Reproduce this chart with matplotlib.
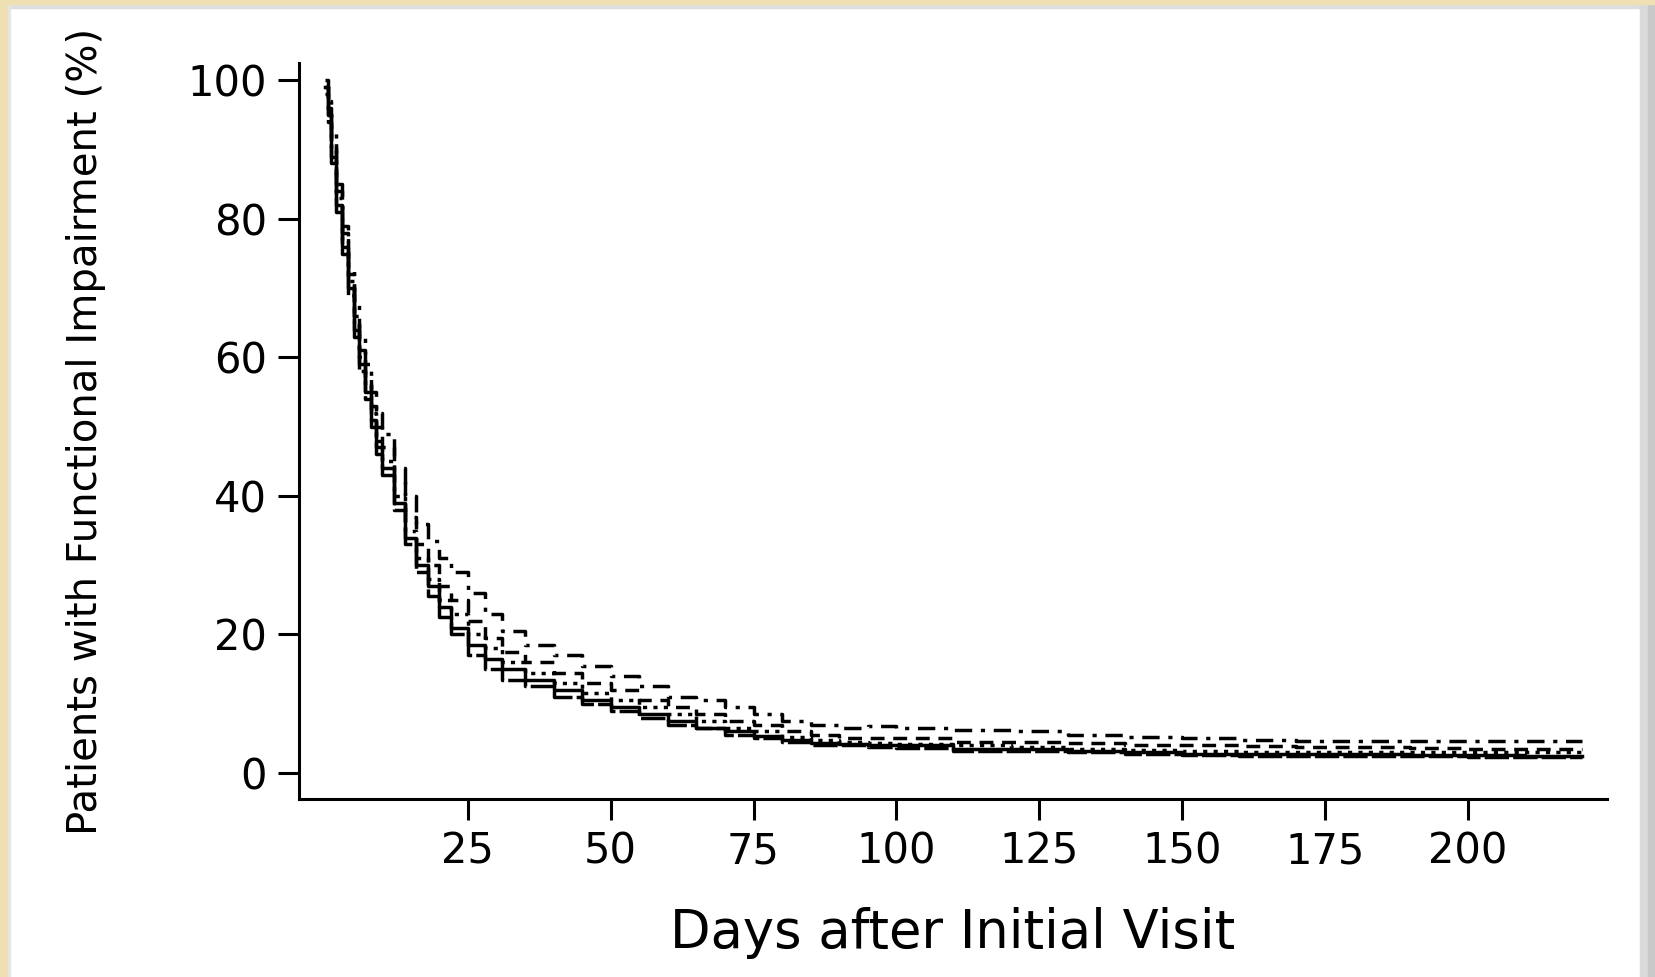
import matplotlib
matplotlib.use("Agg")
import matplotlib.pyplot as plt
from matplotlib.patches import Rectangle

plt.rcParams['font.family'] = ['DejaVu Sans']

# follow-up days and % still impaired for each group
days = [0, 0.5, 1, 2, 3, 4, 5, 6, 7, 8, 9, 10, 12, 14, 16, 18, 20, 22, 25, 28,
        31, 35, 40, 45, 50, 55, 60, 65, 70, 75, 80, 85, 90, 95, 100, 110, 120,
        130, 140, 150, 160, 170, 180, 190, 200, 210, 220]
group_a = [100, 97, 93, 85, 79, 73, 68, 63, 59, 55, 52, 49, 44, 40, 36, 33.5, 31,
           29, 26, 23, 20.5, 18.5, 17, 15.5, 14, 12.5, 11, 10.5, 9.5, 8.5, 7.5, 7,
           6.5, 6.8, 6.5, 6.2, 6, 5.5, 5.2, 5, 4.8, 4.6, 4.6, 4.6, 4.6, 4.6, 4.6]
group_b = [99, 96, 91, 84, 78, 72, 66, 61, 57, 53, 50, 47, 42, 37, 33, 30, 27,
           25, 22, 19.5, 17.5, 16, 14.5, 13, 12, 10.5, 9.5, 8.5, 7.5, 7, 6, 5.5,
           5, 5, 5, 4.5, 4.5, 4.3, 4, 4, 3.9, 3.8, 3.7, 3.6, 3.5, 3.5, 3.5]
group_c = [99, 95, 90, 83, 77, 71, 65, 60, 56, 52, 48, 45, 40, 35, 31, 28, 25,
           23, 20, 18, 16, 14.5, 13, 11.5, 10.5, 9.5, 8.5, 7.5, 6.5, 6, 5.2, 4.8,
           4.5, 4.3, 4.2, 4, 3.8, 3.5, 3.3, 3.2, 3.1, 3, 3, 3, 3, 3, 3]
group_d = [99, 95, 89, 82, 76, 70, 64, 59, 55, 51, 47, 44, 39, 34, 30, 27, 24,
           21, 18.5, 16.5, 15, 13.5, 12, 10.5, 9.5, 8.5, 7.5, 6.5, 6, 5.3, 4.8,
           4.3, 4.2, 4.1, 4, 3.5, 3.5, 3.2, 3, 2.8, 2.8, 2.7, 2.7, 2.6, 2.6, 2.5, 2.5]
group_e = [98, 94, 88, 81, 75, 69, 63, 58, 54, 50, 46, 43, 38, 33, 29, 25.5,
           22.5, 20, 17, 15, 13.5, 12.5, 11, 10, 9, 8, 7, 6.5, 5.5, 5, 4.5, 4, 4,
           3.8, 3.6, 3.2, 3.2, 3, 2.8, 2.6, 2.5, 2.5, 2.4, 2.4, 2.3, 2.3, 2.3]

xticks = [25, 50, 75, 100, 125, 150, 175, 200]
yticks = [0, 20, 40, 60, 80, 100]

fig = plt.figure(figsize=(16.56, 9.77), dpi=100)
ax = fig.add_axes([0.1806, 0.1822, 0.9704 - 0.1806, 0.9355 - 0.1822])

styles = [(0, (5, 2.5, 1.2, 2.5)), (0, (4, 2.5)), (0, (1.2, 1.8)), '-', (0, (7, 1.2))]
for vals, ls in zip([group_a, group_b, group_c, group_d, group_e], styles):
    ax.plot(days, vals, color='black', lw=2.5, ls=ls, drawstyle='steps-post')

ax.set_xlim(-4.55, 224.4)
ax.set_ylim(-3.75, 102.5)
ax.set_xticks(xticks)
ax.set_yticks(yticks)
for s in ['top', 'right']:
    ax.spines[s].set_visible(False)
for s in ['left', 'bottom']:
    ax.spines[s].set_linewidth(2.2)
ax.tick_params(length=15, width=2.2, labelsize=30, pad=8)

ax.set_xlabel("Days after Initial Visit", fontsize=38)
ax.set_ylabel("Patients with Functional Impairment (%)", fontsize=29)
ax.xaxis.set_label_coords(0.5, -0.1467)
ax.yaxis.set_label_coords(-0.1476, 0.5)

# frame around the figure
W, H = 1656, 977
def band(x, y, w, h, c):
    fig.patches.append(Rectangle((x / W, 1 - (y + h) / H), w / W, h / H,
                                 transform=fig.transFigure, color=c, zorder=0))
band(0, 4, W, 4, '#dedede')
band(7, 0, 3, H, '#e6e6e6')
band(1640, 0, 16, H, '#dadada')
band(1648, 0, 8, H, '#c9c9c9')
band(0, 0, W, 4, '#efe0b4')
band(0, 0, 7, H, '#efe0b4')

fig.savefig('out.png', dpi=100)
